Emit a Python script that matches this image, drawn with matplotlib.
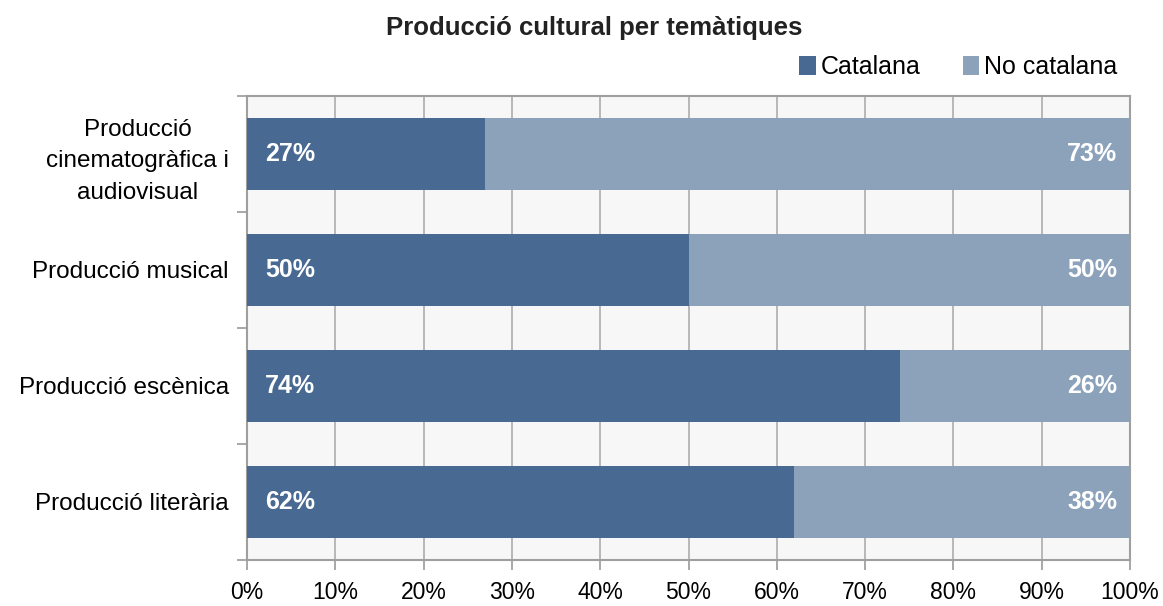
import numpy as np
import matplotlib.pyplot as plt
from matplotlib.ticker import MultipleLocator, FuncFormatter

plt.rcParams['font.family'] = ['Liberation Sans', 'DejaVu Sans']

categories = [
    "Producció\ncinematogràfica i\naudiovisual",
    "Producció musical",
    "Producció escènica",
    "Producció literària",
]
catalana = [27, 50, 74, 62]
no_catalana = [73, 50, 26, 38]
series_names = ["Catalana", "No catalana"]

DARK = '#486a92'
LIGHT = '#8ca2bb'
GRID = '#b3b3b3'

fig = plt.figure(figsize=(11.63, 6.06), dpi=100)
ax = fig.add_axes([247 / 1163, 1 - 560 / 606, (1130 - 247) / 1163, (560 - 96) / 606])
ax.set_facecolor('#f7f7f7')

y = np.arange(len(categories))
h = 0.62
b1 = ax.barh(y, catalana, height=h, color=DARK, label=series_names[0], zorder=3)
b2 = ax.barh(y, no_catalana, left=catalana, height=h, color=LIGHT,
             label=series_names[1], zorder=3)

for yi, c, n in zip(y, catalana, no_catalana):
    ax.annotate(f"{c}%", xy=(0, yi), xytext=(13, 0), textcoords='offset points',
                ha='left', va='center', color='white', fontsize=18,
                fontweight='bold', zorder=4)
    ax.annotate(f"{n}%", xy=(c + n, yi), xytext=(-9, 0), textcoords='offset points',
                ha='right', va='center', color='white', fontsize=18,
                fontweight='bold', zorder=4)

ax.set_xlim(0, 100)
ax.set_ylim(len(categories) - 0.5, -0.5)
ax.xaxis.set_major_locator(MultipleLocator(10))
ax.xaxis.set_major_formatter(FuncFormatter(lambda v, _: f"{v:.0f}%"))
ax.grid(axis='x', color=GRID, linewidth=1.3, zorder=0)

ax.set_yticks(y)
ax.set_yticklabels(categories, multialignment='center', linespacing=1.55)
ax.set_yticks(np.arange(-0.5, len(categories)), minor=True)
ax.tick_params(axis='y', which='major', length=0, pad=13, labelsize=17.5)
ax.tick_params(axis='y', which='minor', length=7, color='#999999', width=1.2)
ax.tick_params(axis='x', length=7, color='#999999', width=1.2, pad=8, labelsize=16.5)

for s in ax.spines.values():
    s.set_color('#9f9f9f')
    s.set_linewidth(1.5)

fig.text(594 / 1163, 1 - 28 / 606, "Producció cultural per temàtiques",
         ha='center', va='center', fontsize=18.5, fontweight='bold', color='#222222')

fig.legend(handles=[b1, b2], labels=series_names, loc='center right',
           bbox_to_anchor=(1130 / 1163, 1 - 67 / 606), ncol=2, frameon=False,
           fontsize=18, handlelength=0.65, handleheight=0.8, handletextpad=0.2,
           columnspacing=1.7, borderpad=0)

fig.savefig('out.png', dpi=100)
